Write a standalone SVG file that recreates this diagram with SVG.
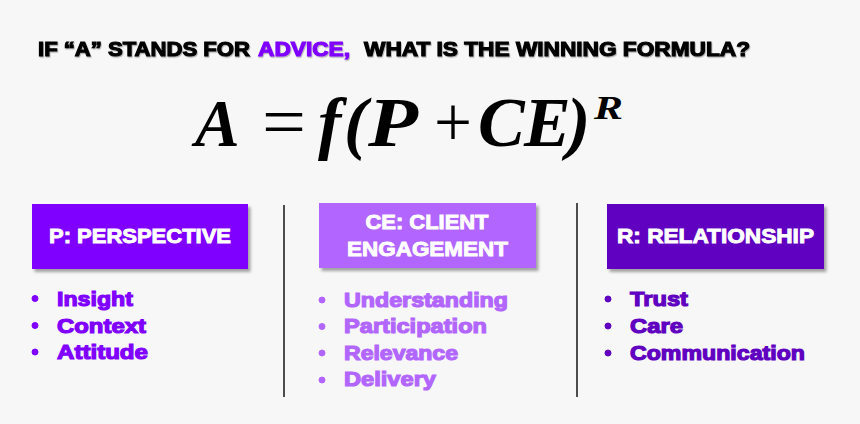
<svg xmlns="http://www.w3.org/2000/svg" width="860" height="424" viewBox="0 0 860 424">
<defs>
<filter id="sh" x="-10%" y="-10%" width="130%" height="140%">
<feDropShadow dx="2.5" dy="3" stdDeviation="1.5" flood-color="#000" flood-opacity="0.35"/>
</filter>
<filter id="tsh" x="-5%" y="-20%" width="110%" height="150%">
<feDropShadow dx="0.8" dy="1.2" stdDeviation="0.6" flood-color="#000" flood-opacity="0.3"/>
</filter>
<style>
.title{font-family:"Liberation Sans",Arial,sans-serif;font-weight:bold;font-size:20px;stroke-width:1.1px}
.mb{font-family:"Liberation Serif","Times New Roman",serif;font-weight:bold;font-style:italic;fill:#000}
.mr{font-family:"Liberation Serif","Times New Roman",serif;font-weight:normal;fill:#000}
.hdr{font-family:"Liberation Sans",Arial,sans-serif;font-weight:bold;font-size:21px;fill:#fff;stroke:#fff;stroke-width:0.9px;text-anchor:middle}
.item{font-family:"Liberation Sans",Arial,sans-serif;font-weight:bold;font-size:21px;stroke-width:1.2px}
.c1{fill:#7f00ff;stroke:#7f00ff}
.c2{fill:#b266ff;stroke:#b266ff}
.c3{fill:#6000c0;stroke:#6000c0}
.div{stroke:#4d4d4d;stroke-width:2}
</style>
</defs>
<rect width="860" height="424" fill="#f7f7f7"/>
<g id="title" filter="url(#tsh)">
<text class="title" x="38" y="56" fill="#000" stroke="#000" textLength="212" lengthAdjust="spacingAndGlyphs">IF “A” STANDS FOR</text>
<text class="title" x="258" y="56" fill="#7f00ff" stroke="#7f00ff" textLength="92" lengthAdjust="spacingAndGlyphs">ADVICE,</text>
<text class="title" x="364" y="56" fill="#000" stroke="#000" textLength="386" lengthAdjust="spacingAndGlyphs">WHAT IS THE WINNING FORMULA?</text>
</g>
<g id="formula">
<text class="mb" x="195" y="146" font-size="67">A</text>
<text class="mr" x="262" y="146" font-size="72" textLength="44" lengthAdjust="spacingAndGlyphs">=</text>
<text class="mb" x="318 344" y="146" font-size="70">f(</text>
<text class="mb" x="368" y="146" font-size="70" textLength="50" lengthAdjust="spacingAndGlyphs">P</text>
<text class="mr" x="434" y="146" font-size="72" textLength="38" lengthAdjust="spacingAndGlyphs">+</text>
<text class="mb" x="478 524 567" y="146" font-size="70">CE)</text>
<text class="mb" x="594" y="119" font-size="34" textLength="29" lengthAdjust="spacingAndGlyphs">R</text>
</g>
<g id="connectors">
<line class="div" x1="284" y1="205" x2="284" y2="397"/>
<line class="div" x1="577" y1="203" x2="577" y2="397"/>
</g>
<g id="perspective">
<rect x="32" y="204" width="216" height="65" fill="#7f00ff" filter="url(#sh)"/>
<text class="hdr" x="140" y="243" textLength="182" lengthAdjust="spacingAndGlyphs">P: PERSPECTIVE</text>
<g class="c1">
<circle cx="35" cy="298.5" r="3"/><circle cx="35" cy="325.5" r="3"/><circle cx="35" cy="352" r="3"/>
<text class="item" x="57" y="306" textLength="76" lengthAdjust="spacingAndGlyphs">Insight</text>
<text class="item" x="57" y="333" textLength="89" lengthAdjust="spacingAndGlyphs">Context</text>
<text class="item" x="57" y="359" textLength="91" lengthAdjust="spacingAndGlyphs">Attitude</text>
</g>
</g>
<g id="client-engagement">
<rect x="319" y="203" width="217" height="65" fill="#b266ff" filter="url(#sh)"/>
<text class="hdr" x="427" y="229" textLength="123" lengthAdjust="spacingAndGlyphs">CE: CLIENT</text>
<text class="hdr" x="427.5" y="256" textLength="161" lengthAdjust="spacingAndGlyphs">ENGAGEMENT</text>
<g class="c2">
<circle cx="322" cy="300" r="3"/><circle cx="322" cy="326.5" r="3"/><circle cx="322" cy="353" r="3"/><circle cx="322" cy="380" r="3"/>
<text class="item" x="344" y="307" textLength="164" lengthAdjust="spacingAndGlyphs">Understanding</text>
<text class="item" x="344" y="333" textLength="143" lengthAdjust="spacingAndGlyphs">Participation</text>
<text class="item" x="344" y="360" textLength="114" lengthAdjust="spacingAndGlyphs">Relevance</text>
<text class="item" x="344" y="386" textLength="92" lengthAdjust="spacingAndGlyphs">Delivery</text>
</g>
</g>
<g id="relationship">
<rect x="607" y="204" width="217" height="65" fill="#6000c0" filter="url(#sh)"/>
<text class="hdr" x="715.5" y="243" textLength="197" lengthAdjust="spacingAndGlyphs">R: RELATIONSHIP</text>
<g class="c3">
<circle cx="608" cy="299" r="3"/><circle cx="608" cy="326" r="3"/><circle cx="608" cy="353" r="3"/>
<text class="item" x="630" y="306" textLength="58" lengthAdjust="spacingAndGlyphs">Trust</text>
<text class="item" x="630" y="333" textLength="53" lengthAdjust="spacingAndGlyphs">Care</text>
<text class="item" x="630" y="360" textLength="175" lengthAdjust="spacingAndGlyphs">Communication</text>
</g>
</g>
</svg>
